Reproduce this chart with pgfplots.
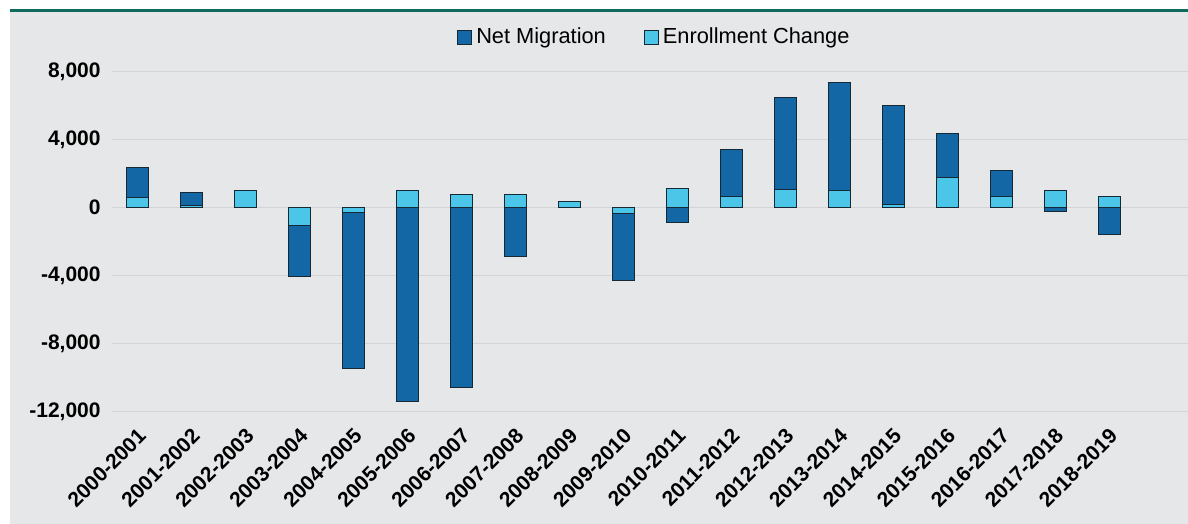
\documentclass[border=0pt]{standalone}
\usepackage{pgfplots}
\pgfplotsset{compat=1.18}
\usepackage{fontspec}
\setmainfont{Liberation Sans}

\definecolor{bggray}{RGB}{230,231,233}
\definecolor{gridgray}{RGB}{211,212,214}
\definecolor{netblue}{RGB}{20,103,165}
\definecolor{enrblue}{RGB}{75,198,233}
\definecolor{topgreen}{RGB}{14,107,94}
\definecolor{edge}{RGB}{22,40,52}

\begin{document}
\begin{tikzpicture}
% page background, grey panel and the green rule on top
\fill[white] (0,0) rectangle (594pt,262pt);
\fill[bggray] (5pt,0) rectangle (594pt,256pt);
\fill[topgreen] (5pt,256pt) rectangle (594pt,257.6pt);

\begin{axis}[
  at={(56pt,56.15pt)}, anchor=south west,
  scale only axis,
  width=538pt, height=170pt,
  xmin=-0.48, xmax=19.46,
  ymin=-12000, ymax=8000,
  ytick={-12000,-8000,-4000,0,4000,8000},
  xtick={0,...,18},
  xticklabels={2000-2001,2001-2002,2002-2003,2003-2004,2004-2005,2005-2006,
    2006-2007,2007-2008,2008-2009,2009-2010,2010-2011,2011-2012,2012-2013,
    2013-2014,2014-2015,2015-2016,2016-2017,2017-2018,2018-2019},
  scaled y ticks=false,
  /pgf/number format/.cd, 1000 sep={,}, assume math mode=true,
  /pgfplots/.cd,
  axis line style={draw=none},
  major tick length=0pt,
  tick style={draw=none},
  ymajorgrids,
  grid style={gridgray, line width=0.75pt},
  yticklabel style={font=\bfseries\fontsize{10.5}{12}\selectfont, inner sep=0pt, xshift=-5.5pt},
  xticklabel style={font=\bfseries\fontsize{10.5}{12}\selectfont, inner sep=0pt,
    xshift=-0.5pt, yshift=-7.5pt, rotate=45, anchor=north east},
  ybar, bar width=11pt,
  legend image code/.code={\draw[#1] (0pt,-3.5pt) rectangle (7pt,3.5pt);},
  legend style={at={(0.505,1.102)}, anchor=center, draw=none, fill=none,
    inner sep=0pt, font=\fontsize{10.9}{13}\selectfont,
    /tikz/every even column/.append style={column sep=17pt}},
  legend columns=-1,
]

% Net Migration (drawn first, behind)
\addplot[bar shift=0pt, fill=netblue, draw=edge, line width=0.5pt]
  coordinates{
    (0,2350) (1,900) (2,600) (3,-4050) (4,-9450) (5,-11400) (6,-10550)
    (7,-2880) (8,200) (9,-4300) (10,-900) (11,3400) (12,6500) (13,7350)
    (14,6000) (15,4350) (16,2180) (17,-200) (18,-1600)
  };
\addlegendentry{Net Migration}

% Enrollment Change (on top)
\addplot[bar shift=0pt, fill=enrblue, draw=edge, line width=0.5pt]
  coordinates{
    (0,600) (1,100) (2,1000) (3,-1050) (4,-300) (5,1000) (6,750)
    (7,780) (8,350) (9,-350) (10,1100) (11,680) (12,1050) (13,1000)
    (14,180) (15,1800) (16,680) (17,1000) (18,680)
  };
\addlegendentry{Enrollment Change}

\end{axis}
\pgfresetboundingbox
\path[use as bounding box] (0,0) rectangle (594pt,262pt);
\end{tikzpicture}
\end{document}
